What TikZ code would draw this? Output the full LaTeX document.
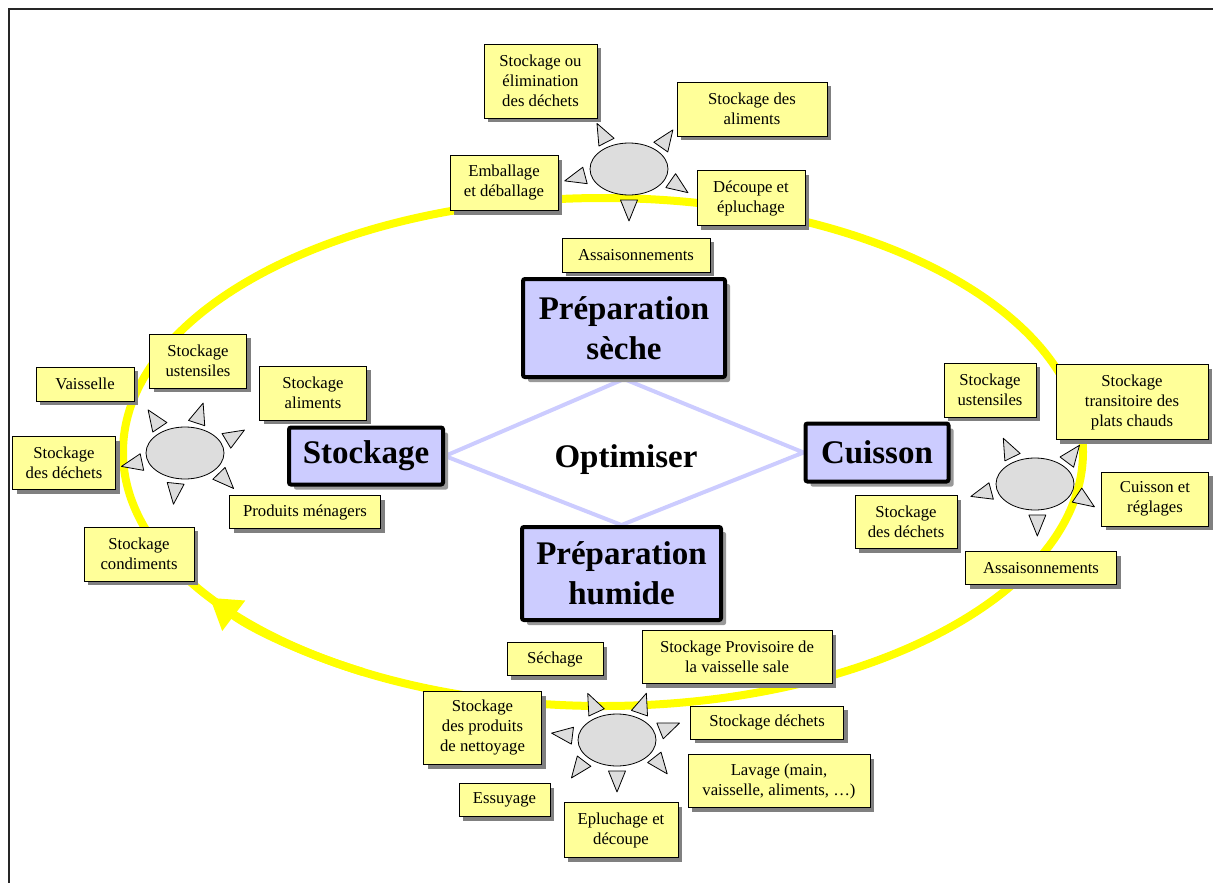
\documentclass[tikz,border=0pt]{standalone}
\usepackage{fontspec}
\setmainfont{Liberation Serif}
\usetikzlibrary{calc,positioning,shapes.geometric,shadows,arrows.meta}
\pgfdeclarelayer{background}
\pgfsetlayers{background,main}

\definecolor{boxyellow}{RGB}{255,255,153}
\definecolor{lavender}{RGB}{204,204,255}
\definecolor{ringyellow}{RGB}{255,255,0}
\definecolor{sungray}{RGB}{221,221,221}

% grey sun: body, then one ray per position/direction pair
\newcommand\sun[3]{%
  \node[sunbody] (#1) at (#2) {};
  \foreach \pa/\da in {#3}
  \draw[sunray,shift={($(#1)+({45*cos(\pa)},{-31*sin(\pa)})$)},rotate=\da]
    (0,-8.5) -- (21,0) -- (0,8.5) -- cycle;
}

\begin{document}
\begin{tikzpicture}[
x=1pt,
y=-1pt,
>=stealth,
item/.style={
	draw,
	fill=boxyellow,
	align=center,
	inner sep=0pt,
	font=\fontsize{16.7}{20}\selectfont,
	drop shadow={shadow xshift=4pt,shadow yshift=-4pt,fill=black!50,opacity=1}
},
stage/.style={
	draw,
	line width=4pt,
	rounded corners=2pt,
	fill=lavender,
	align=center,
	inner sep=0pt,
	font=\fontsize{33}{40}\selectfont\bfseries,
	drop shadow={shadow xshift=5pt,shadow yshift=-5pt,fill=black!40,opacity=1}
},
sunbody/.style={
	ellipse,
	draw,
	thick,
	fill=sungray,
	minimum width=78pt,
	minimum height=52pt
},
sunray/.style={
	draw,
	thick,
	fill=sungray,
	line join=round
},
ring/.style={
	draw=ringyellow,
	line width=8pt
},
rhombus/.style={
	draw=lavender,
	line width=4pt
}
]
\useasboundingbox (0,0) rectangle (1213,883);
\draw[line width=2pt,black!85] (9.3,883) -- (9.3,9.3) -- (1213,9.3);

% dry preparation
\sun{s1}{629,169}{120/117,45/55,-22/-35,-90/-90,-168/-165}
\node[item,minimum width=113pt,minimum height=74pt] (t1) at (540.5,81) {Stockage ou\\élimination\\des déchets};
\node[item,minimum width=150pt,minimum height=54pt] (t2) at (752,109) {Stockage des\\aliments};
\node[item,minimum width=108pt,minimum height=55pt] (t3) at (504,183) {Emballage\\et déballage};
\node[item,minimum width=108pt,minimum height=55pt] (t4) at (751,198) {Découpe et\\épluchage};
\node[item,minimum width=148pt,minimum height=34pt] (t5) at (636,255) {Assaisonnements};

% storage
\sun{s2}{185,453}{124/124,75/72,23/31,-41/-46,-102/-96,-163/-168}
\node[item,minimum width=98pt,minimum height=34pt] (l1) at (85,384) {Vaisselle};
\node[item,minimum width=97pt,minimum height=54pt] (l2) at (198,361) {Stockage\\ustensiles};
\node[item,minimum width=107pt,minimum height=54pt] (l3) at (313,393) {Stockage\\aliments};
\node[item,minimum width=103pt,minimum height=53pt] (l4) at (64,463) {Stockage\\des déchets};
\node[item,minimum width=151pt,minimum height=33pt] (l5) at (305,512) {Produits ménagers};
\node[item,minimum width=110pt,minimum height=54pt] (l6) at (139,554) {Stockage\\condiments};

% cooking
\sun{s3}{1035,484}{120/116,45/53,-21/-34,-87/-90,-167/-165}
\node[item,minimum width=92pt,minimum height=54pt] (r1) at (990,390) {Stockage\\ustensiles};
\node[item,minimum width=152pt,minimum height=75pt] (r2) at (1132,402) {Stockage\\transitoire des\\plats chauds};
\node[item,minimum width=107pt,minimum height=54pt] (r3) at (1155,499) {Cuisson et\\réglages};
\node[item,minimum width=102pt,minimum height=53pt] (r4) at (906,522) {Stockage\\des déchets};
\node[item,minimum width=151pt,minimum height=33pt] (r5) at (1041,568) {Assaisonnements};

% wet preparation
\sun{s4}{617,740}{117/115,60/71,17/22,-34/-52,-90/-90,-137/-127,172/173}
\node[item,minimum width=96pt,minimum height=33pt] (b1) at (555,659) {Séchage};
\node[item,minimum width=190pt,minimum height=53pt] (b2) at (737,657) {Stockage Provisoire de\\la vaisselle sale};
\node[item,minimum width=118pt,minimum height=73pt] (b3) at (482.5,728) {Stockage\\des produits\\de nettoyage};
\node[item,minimum width=153pt,minimum height=33pt] (b4) at (767,722.5) {Stockage déchets};
\node[item,minimum width=182pt,minimum height=53pt] (b5) at (779,781) {Lavage (main,\\vaisselle, aliments, …)};
\node[item,minimum width=91pt,minimum height=33pt] (b6) at (504.5,800) {Essuyage};
\node[item,minimum width=114pt,minimum height=55pt] (b7) at (621,830) {Epluchage et\\découpe};

% the four stages
\node[stage,minimum width=202pt,minimum height=98pt] (dry) at (624,328) {Préparation\\sèche};
\node[stage,minimum width=154pt,minimum height=57pt] (store) at (366,456) {Stockage};
\node[stage,minimum width=143pt,minimum height=58pt] (cook) at (877,452.5) {Cuisson};
\node[stage,minimum width=199pt,minimum height=93pt] (wet) at (621.5,573.5) {Préparation\\humide};
\node[font=\fontsize{33}{40}\selectfont\bfseries] (opt) at (626,460) {Optimiser};

\begin{pgfonlayer}{background}
\draw[ring] (603,452) ellipse [x radius=480,y radius=254];
\draw[ring,-{Triangle[length=30pt,width=36pt]}] (603,452) ++(120:480 and 254)
  arc [start angle=120,end angle=145,x radius=480,y radius=254];
\draw[rhombus] (store.east) -- (dry.south) -- (cook.west) -- (wet.north) -- cycle;
\end{pgfonlayer}
\end{tikzpicture}
\end{document}
